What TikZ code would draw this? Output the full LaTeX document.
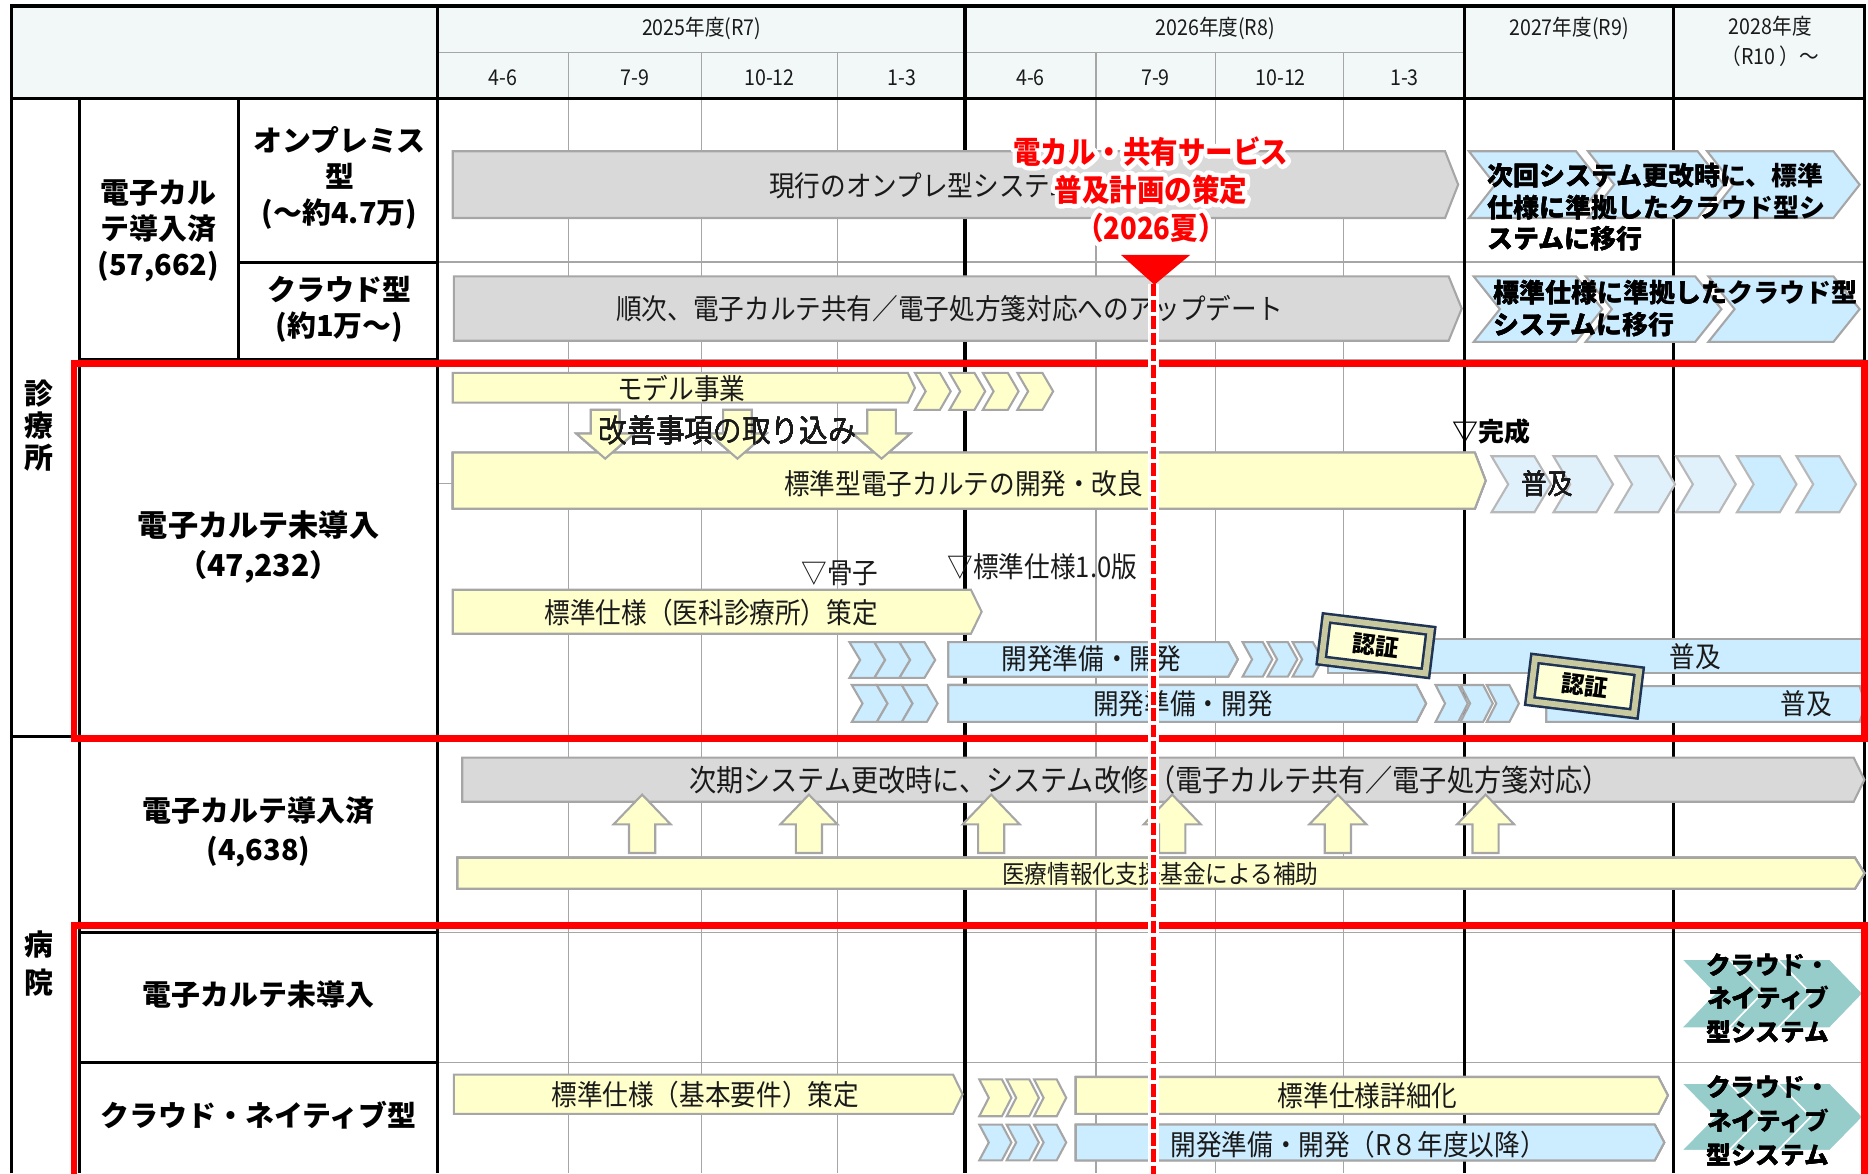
\documentclass[tikz,border=0pt]{standalone}
\usepackage{fontspec}
\setmainfont{Noto Sans CJK JP}
\newfontfamily\jpnarrow[FakeStretch=0.9]{Noto Sans CJK JP}

\definecolor{hdrBg}{HTML}{F2F8F8}
\definecolor{gridGray}{HTML}{A6A6A6}
\definecolor{barGray}{HTML}{D9D9D9}
\definecolor{edgeGray}{HTML}{A6A6A6}
\definecolor{barYel}{HTML}{FFFFCC}
\definecolor{barBlue}{HTML}{CCECFF}
\definecolor{paleBlue}{HTML}{E0F1FC}
\definecolor{tealChev}{HTML}{96CDCA}
\definecolor{markRed}{HTML}{FF0000}
\definecolor{txtDark}{HTML}{1A1A1A}
\definecolor{stampEdge}{HTML}{1F3355}
\definecolor{stampBevel}{HTML}{C9C9A0}
\definecolor{stampFill}{HTML}{FFFFD5}

% barra con punta: estilo, x1, y1, x2, y2, punta
\newcommand{\pbar}[6]{\path[#1] (#2,#3) -- ({#4-#6},#3) -- (#4,{(#3+#5)/2}) -- ({#4-#6},#5) -- (#2,#5) -- cycle;}
% chevron: estilo, x1, y1, x2, y2, profundidad
\newcommand{\chev}[6]{\path[#1] (#2,#3) -- ({#4-#6},#3) -- (#4,{(#3+#5)/2}) -- ({#4-#6},#5) -- (#2,#5) -- ({#2+#6},{(#3+#5)/2}) -- cycle;}
% flechas de bloque: estilo, x, y inicio, y punta
\newcommand{\downarr}[4]{\path[#1] ({#2-12},#3) -- ({#2+12},#3) -- ({#2+12},{#4-21}) -- ({#2+24},{#4-21}) -- (#2,#4) -- ({#2-24},{#4-21}) -- ({#2-12},{#4-21}) -- cycle;}
\newcommand{\uparr}[4]{\path[#1] ({#2-11},#3) -- ({#2+11},#3) -- ({#2+11},{#4+25}) -- ({#2+24},{#4+25}) -- (#2,#4) -- ({#2-24},{#4+25}) -- ({#2-11},{#4+25}) -- cycle;}
% texto con contorno blanco
\newcommand{\glowline}[1]{\leavevmode\rlap{\special{pdf:code q 1 Tr 2.2 w 1 1 1 RG 1 j}#1\special{pdf:code Q}}#1}

\begin{document}
\begin{tikzpicture}[x=0.01cm, y=-0.01cm,
  blackline/.style={line width=0.75pt, black},
  gridline/.style={line width=0.3pt, gridGray},
  graybar/.style={fill=barGray, draw=edgeGray, line width=0.5pt},
  yelbar/.style={fill=barYel, draw=edgeGray, line width=0.5pt},
  bluebar/.style={fill=barBlue, draw=edgeGray, line width=0.5pt},
  tealbar/.style={fill=tealChev, draw=white, line width=0.4pt},
  bartxt/.style={font=\jpnarrow\fontsize{6.8pt}{8pt}\selectfont, text=txtDark, inner sep=0pt},
  hdrtxt/.style={font=\jpnarrow\fontsize{5.2pt}{7.1pt}\selectfont, text=txtDark, inner sep=0pt, align=center},
  lbltxt/.style={font=\bfseries\fontsize{6.9pt}{9.3pt}\selectfont, align=center, inner sep=0pt},
  toplbl/.style={font=\bfseries\fontsize{6.9pt}{8.6pt}\selectfont, align=center, inner sep=0pt},
  chevtxt/.style={font=\bfseries\fontsize{6.2pt}{7.5pt}\selectfont, align=left, inner sep=0pt},
  tealtxt/.style={font=\bfseries\fontsize{5.9pt}{8pt}\selectfont, align=center, inner sep=0pt},
  redtxt/.style={font=\jpnarrow\bfseries\fontsize{7.3pt}{9.1pt}\selectfont, text=markRed, align=center, inner sep=0pt},
  stamp/.style={draw=stampEdge, double=stampBevel, double distance=1.4pt, fill=stampFill, line width=0.6pt,
    minimum width=0.88cm, minimum height=0.36cm, inner sep=0pt, font=\bfseries\fontsize{5.6pt}{6pt}\selectfont},
  redbox/.style={draw=markRed, line width=1.6pt}]

\useasboundingbox (0,0) rectangle (1568,985);

% Fondo de la cabecera
\fill[hdrBg] (10,5) rectangle (1565,83);

% Lineas finas de trimestres
\foreach \gx in {477,589,703,920,1020,1128}
  \draw[gridline] (\gx,44) -- (\gx,985);
\draw[gridline] (367,44) -- (1229,44);
\foreach \gy in {220,302,618,783,892}
  \draw[gridline] (367,\gy) -- (1565,\gy);
\draw[gridline] (367,406) -- (381,406);

% Marco de la tabla
\draw[blackline] (10,985) -- (10,5) -- (1565,5) -- (1565,985);
\draw[blackline] (10,83) -- (1565,83);
\foreach \fx in {367,810,1229,1405}
  \draw[blackline] (\fx,5) -- (\fx,985);
\draw[blackline] (67,83) -- (67,985);
\draw[blackline] (200,83) -- (200,302);
\draw[blackline] (200,220) -- (367,220);
\draw[blackline] (67,302) -- (367,302);
\draw[blackline] (10,618) -- (367,618);
\draw[blackline] (67,783) -- (367,783);
\draw[blackline] (67,892) -- (367,892);

% Cabecera
\node[hdrtxt] (fy25) at (589,24) {2025年度(R7)};
\node[hdrtxt] (fy26) at (1020,24) {2026年度(R8)};
\node[hdrtxt] (fy27) at (1317,24) {2027年度(R9)};
\node[hdrtxt] (fy28) at (1486,35) {2028年度\\（R10 ）～};
\foreach \qx/\ql [count=\k] in {422/4-6, 533/7-9, 646/10-12, 757/1-3, 865/4-6, 970/7-9, 1075/10-12, 1179/1-3}
  \node[hdrtxt] (q\k) at (\qx,65) {\ql};

% Etiquetas de filas
\node[toplbl] (clinicdone) at (133,194) {電子カル\\テ導入済\\(57,662)};
\node[toplbl] (onprem) at (285,149) {オンプレミス\\型\\(～約4.7万)};
\node[toplbl] (cloudtype) at (285,260) {クラウド型\\(約1万～)};
\node[lbltxt, font=\bfseries\fontsize{6.9pt}{7.6pt}\selectfont] (clinic) at (33,357) {診\\療\\所};
\node[lbltxt, font=\bfseries\fontsize{7.2pt}{9.7pt}\selectfont] (clinicnot) at (217,459) {電子カルテ未導入\\（47,232）};
\node[lbltxt, font=\bfseries\fontsize{6.9pt}{9pt}\selectfont] (hosp) at (33,809) {病\\院};
\node[lbltxt] (hospdone) at (217,698) {電子カルテ導入済\\(4,638)};
\node[lbltxt] (hospnot) at (217,835) {電子カルテ未導入};
\node[lbltxt] (hospcn) at (217,936) {クラウド・ネイティブ型};

% Fila onpremise y nube
\pbar{graybar}{380}{127}{1224}{183}{11}
\node[bartxt, anchor=west] (onpreold) at (645,156) {現行のオンプレ型システム};
\pbar{graybar}{381}{232}{1227}{286}{11}
\node[bartxt] (cloudupd) at (797,259) {順次、電子カルテ共有／電子処方箋対応へのアップデート};
\foreach \cx/\cw in {1233/112, 1333/114, 1433/128}
  \chev{bluebar}{\cx}{127}{\cx+\cw}{183}{22}
\node[chevtxt, anchor=west] (nextsys) at (1248,174) {次回システム更改時に、標準\\仕様に準拠したクラウド型シ\\ステムに移行};
\foreach \cx/\cw in {1237/108, 1331/114, 1434/127}
  \chev{bluebar}{\cx}{232}{\cx+\cw}{287}{22}
\node[chevtxt, anchor=west] (stdcloud) at (1253,259) {標準仕様に準拠したクラウド型\\システムに移行};

% Fila clinicas sin historia clinica
\pbar{yelbar}{380}{313}{768}{338}{6}
\node[bartxt] (model) at (572,326) {モデル事業};
\foreach \cx in {768,797,825,854}
  \chev{yelbar}{\cx}{313}{\cx+30}{344}{9}
\pbar{yelbar}{380}{380}{1247}{427}{9}
\foreach \ax in {508,619,740}
  \downarr{yelbar}{\ax}{344}{385}
\node[bartxt, font=\jpnarrow\fontsize{7.6pt}{8pt}\selectfont] (kaizen) at (611,361) {改善事項の取り込み};
\node[bartxt] (stdemr) at (809,406) {標準型電子カルテの開発・改良};
\node[chevtxt] (done) at (1252,362) {▽完成};
\foreach \cx/\cc in {1252/paleBlue, 1304/paleBlue, 1356/paleBlue, 1407/paleBlue, 1458/barBlue, 1508/barBlue}
  \chev{draw=edgeGray!80, fill=\cc, line width=0.5pt}{\cx}{383}{\cx+50}{430}{14}
\node[bartxt] (spread1) at (1299,406) {普及};

\node[bartxt] (kosshi) at (705,481) {▽骨子};
\node[bartxt] (spec10) at (875,476) {▽標準仕様1.0版};
\pbar{yelbar}{380}{495}{824}{532}{9}
\node[bartxt] (clinicspec) at (597,514) {標準仕様（医科診療所）策定};

\foreach \cx in {713,734,755}
  \chev{bluebar}{\cx}{539}{\cx+30}{569}{9}
\pbar{bluebar}{796}{539}{1039}{568}{8}
\node[bartxt] (dev1) at (916,553) {開発準備・開発};
\foreach \cx in {1043,1064,1085}
  \chev{bluebar}{\cx}{539}{\cx+25}{568}{8}
\path[bluebar] (1115,536) rectangle (1566,565);
\node[bartxt] (spread2) at (1423,551) {普及};
\node[stamp, rotate=-7] (cert1) at (1155,542) {認証};

\foreach \cx in {715,736,757}
  \chev{bluebar}{\cx}{575}{\cx+30}{606}{9}
\pbar{bluebar}{796}{575}{1197}{606}{8}
\node[bartxt] (dev2) at (993,591) {開発準備・開発};
\foreach \cx in {1205,1226,1248}
  \chev{bluebar}{\cx}{575}{\cx+27}{606}{8}
\pbar{bluebar}{1298}{576}{1566}{606}{5}
\node[bartxt] (spread3) at (1516,591) {普及};
\node[stamp, rotate=-7] (cert2) at (1330,576) {認証};

% Fila hospitales con historia clinica
\pbar{graybar}{388}{636}{1565}{673}{9}
\node[bartxt, font=\jpnarrow\fontsize{7.2pt}{8pt}\selectfont] (renew) at (965,655) {次期システム更改時に、システム改修（電子カルテ共有／電子処方箋対応）};
\foreach \ax in {539,679,832,984,1123,1247}
  \uparr{yelbar}{\ax}{716}{667}
\pbar{yelbar}{384}{720}{1565}{746}{8}
\node[bartxt, font=\jpnarrow\fontsize{6pt}{7pt}\selectfont] (fund) at (974,734) {医療情報化支援基金による補助};

% Fila hospitales sin historia clinica
\foreach \cx in {1411,1451,1492}
  \chev{tealbar}{\cx}{805}{\cx+72}{863}{28}
\node[tealtxt] (cnsys1) at (1484,838) {クラウド・\\ネイティブ\\型システム};

% Fila nube nativa
\pbar{yelbar}{381}{902}{808}{935}{8}
\node[bartxt] (basespec) at (592,919) {標準仕様（基本要件）策定};
\foreach \cx in {822,845,868}
  \chev{yelbar}{\cx}{906}{\cx+27}{937}{8}
\pbar{yelbar}{903}{904}{1400}{935}{8}
\node[bartxt] (detail) at (1148,920) {標準仕様詳細化};
\foreach \cx in {822,845,868}
  \chev{bluebar}{\cx}{944}{\cx+27}{974}{8}
\pbar{bluebar}{903}{944}{1397}{974}{8}
\node[bartxt] (dev3) at (1140,961) {開発準備・開発（R８年度以降）};
\foreach \cx in {1411,1451,1492}
  \chev{tealbar}{\cx}{909}{\cx+72}{966}{28}
\node[tealtxt] (cnsys2) at (1484,941) {クラウド・\\ネイティブ\\型システム};

% Recuadros rojos
\draw[redbox] (62,305) rectangle (1565,620);
\draw[redbox] (62,777) rectangle (1565,1000);

% Linea del plan (verano 2026)
\coordinate (planTop) at (968,238);
\coordinate (planEnd) at (968,990);
\draw[white, line width=2.6pt] (planTop) -- (planEnd);
\draw[markRed, line width=1.2pt, dash pattern=on 3pt off 0.9pt] (planTop) -- (planEnd);
\fill[markRed] (941,214) -- (999,214) -- (969,239) -- cycle;

% Texto rojo con contorno blanco
\node[redtxt] (plan) at (966,159) {\glowline{電カル・共有サービス}\\\glowline{普及計画の策定}\\\glowline{（2026夏）}};

\end{tikzpicture}
\end{document}
